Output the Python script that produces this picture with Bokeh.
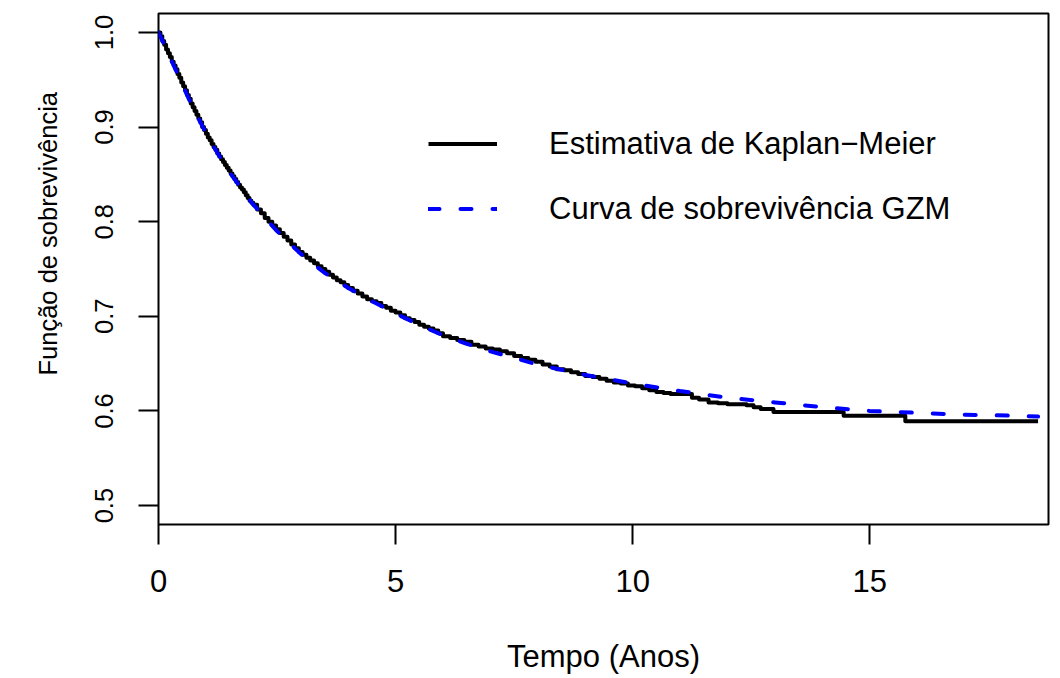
from bokeh.embed import file_html
from bokeh.models import (ColumnDataSource, FixedTicker, Legend, LegendItem,
                          Range1d, Title)
from bokeh.plotting import figure
from bokeh.resources import INLINE

# Kaplan-Meier estimate (event times in years, survival after each event)
km_time = [0.00, 0.04, 0.08, 0.12, 0.16, 0.20, 0.24, 0.28, 0.32, 0.36,
           0.40, 0.44, 0.48, 0.52, 0.56, 0.60, 0.64, 0.68, 0.72, 0.76,
           0.80, 0.84, 0.88, 0.92, 0.96, 1.00, 1.04, 1.08, 1.12, 1.16,
           1.20, 1.24, 1.28, 1.32, 1.36, 1.40, 1.44, 1.48, 1.52, 1.56,
           1.60, 1.64, 1.68, 1.72, 1.76, 1.80, 1.84, 1.88, 1.92, 1.96,
           2.00, 2.08, 2.16, 2.24, 2.32, 2.40, 2.48, 2.56, 2.64, 2.72,
           2.80, 2.88, 2.96, 3.04, 3.12, 3.20, 3.28, 3.36, 3.44, 3.52,
           3.60, 3.68, 3.76, 3.84, 3.92, 4.00, 4.10, 4.20, 4.30, 4.40,
           4.50, 4.60, 4.70, 4.80, 4.90, 5.00, 5.10, 5.20, 5.30, 5.40,
           5.50, 5.60, 5.70, 5.80, 5.90, 6.00, 6.15, 6.30, 6.45, 6.60,
           6.75, 6.90, 7.05, 7.20, 7.35, 7.50, 7.65, 7.80, 7.95, 8.10,
           8.25, 8.40, 8.55, 8.70, 8.85, 9.00, 9.15, 9.30, 9.45, 9.60,
           9.75, 9.90, 10.05, 10.20, 10.35, 10.50, 10.65, 10.80, 11.25, 11.40,
           11.60, 11.80, 12.00, 12.20, 12.40, 12.55, 12.70, 12.97, 14.45, 15.75,
           18.55]
km_surv = [1.000, 0.996, 0.991, 0.987, 0.982, 0.978, 0.974, 0.969, 0.965, 0.961,
           0.956, 0.952, 0.947, 0.943, 0.939, 0.934, 0.930, 0.925, 0.921, 0.917,
           0.913, 0.909, 0.905, 0.900, 0.897, 0.893, 0.889, 0.886, 0.882, 0.879,
           0.876, 0.872, 0.869, 0.866, 0.863, 0.860, 0.857, 0.854, 0.851, 0.848,
           0.845, 0.842, 0.839, 0.836, 0.834, 0.831, 0.828, 0.825, 0.822, 0.820,
           0.818, 0.813, 0.809, 0.804, 0.800, 0.796, 0.792, 0.788, 0.784, 0.780,
           0.776, 0.772, 0.768, 0.765, 0.762, 0.759, 0.756, 0.753, 0.750, 0.747,
           0.744, 0.741, 0.738, 0.736, 0.733, 0.730, 0.727, 0.724, 0.721, 0.718,
           0.716, 0.714, 0.711, 0.709, 0.706, 0.704, 0.701, 0.698, 0.696, 0.694,
           0.691, 0.689, 0.687, 0.685, 0.682, 0.679, 0.677, 0.675, 0.673, 0.670,
           0.668, 0.666, 0.665, 0.663, 0.661, 0.658, 0.656, 0.654, 0.652, 0.649,
           0.647, 0.644, 0.643, 0.641, 0.639, 0.637, 0.636, 0.634, 0.632, 0.630,
           0.629, 0.627, 0.626, 0.624, 0.622, 0.620, 0.619, 0.618, 0.614, 0.612,
           0.609, 0.608, 0.607, 0.607, 0.606, 0.604, 0.602, 0.599, 0.595, 0.589,
           0.589]

# Fitted GZM survival curve
gzm_time = [0.00, 0.25, 0.50, 0.75, 1.00, 1.25, 1.50, 1.75, 2.00, 2.50,
            3.00, 3.50, 4.00, 4.50, 5.00, 5.50, 6.00, 6.50, 7.00, 8.00,
            9.00, 10.00, 11.00, 12.00, 13.00, 14.00, 15.00, 16.00, 17.00, 18.00,
            18.55]
gzm_surv = [1.000, 0.973, 0.945, 0.918, 0.894, 0.872, 0.852, 0.835, 0.818, 0.790,
            0.766, 0.746, 0.730, 0.716, 0.703, 0.691, 0.680, 0.671, 0.663, 0.649,
            0.638, 0.629, 0.621, 0.614, 0.609, 0.604, 0.600, 0.598, 0.596, 0.595,
            0.594]

x_ticks = [0, 5, 10, 15]
x_tick_labels = ["0", "5", "10", "15"]
y_ticks = [0.5, 0.6, 0.7, 0.8, 0.9, 1.0]
y_tick_labels = ["0.5", "0.6", "0.7", "0.8", "0.9", "1.0"]

FONT = "Liberation Sans"
FS = "31px"      # horizontal texts
FS_V = "25.5px"  # texts that run up the left side

p = figure(width=1060, height=678, output_backend="svg", toolbar_location=None,
           x_range=Range1d(0, 18.77), y_range=Range1d(0.48, 1.02),
           min_border_left=158, min_border_right=12,
           min_border_top=13, min_border_bottom=154)
p.background_fill_color = "white"
p.border_fill_color = "white"
p.outline_line_color = "black"
p.outline_line_width = 2
p.xgrid.visible = False
p.ygrid.visible = False

for ax, ticks, labels in ((p.xaxis[0], x_ticks, x_tick_labels),
                          (p.yaxis[0], y_ticks, y_tick_labels)):
    ax.ticker = FixedTicker(ticks=ticks)
    ax.major_label_overrides = {t: s for t, s in zip(ticks, labels)}
    ax.axis_line_color = None
    ax.major_tick_in = 0
    ax.major_tick_out = 20
    ax.major_tick_line_width = 2
    ax.major_tick_line_color = "black"
    ax.minor_tick_line_color = None
    ax.major_label_text_font = FONT
    ax.major_label_text_color = "black"

p.xaxis.major_label_text_font_size = FS
p.yaxis.major_label_text_font_size = FS_V
p.xaxis.major_label_standoff = 25
p.yaxis.major_label_standoff = 25
p.yaxis.major_label_orientation = "vertical"

# x-axis title
p.xaxis.axis_label = "Tempo (Anos)"
p.xaxis.axis_label_standoff = 44
p.xaxis.axis_label_text_font = FONT
p.xaxis.axis_label_text_font_size = FS
p.xaxis.axis_label_text_font_style = "normal"
p.xaxis.axis_label_text_color = "black"

src_km = ColumnDataSource(dict(t=km_time, s=km_surv))
src_gzm = ColumnDataSource(dict(t=gzm_time, s=gzm_surv))

r_km = p.step("t", "s", source=src_km, mode="after", line_color="black",
              line_width=4, line_join="round")
r_gzm = p.line("t", "s", source=src_gzm, line_color="#0000FF", line_width=4,
               line_dash="11 21", line_cap="round")

legend = Legend(items=[LegendItem(label="Estimativa de Kaplan\u2212Meier", renderers=[r_km]),
                       LegendItem(label="Curva de sobrevivência GZM", renderers=[r_gzm])],
                location=(270, 283), orientation="vertical",
                glyph_width=69, glyph_height=65, label_height=65,
                label_standoff=52, spacing=0, padding=0, margin=0,
                border_line_color=None, background_fill_alpha=0,
                label_text_font=FONT, label_text_font_size=FS,
                label_text_color="black")
p.add_layout(legend)

# y-axis title, starting 149 px above the bottom of the frame
p.add_layout(Title(text="Função de sobrevivência", align="left", offset=149,
                   vertical_align="top", standoff=58, text_font=FONT,
                   text_font_size=FS_V, text_font_style="normal",
                   text_color="black"), "left")

open("out.html", "w").write(file_html(p, INLINE))
